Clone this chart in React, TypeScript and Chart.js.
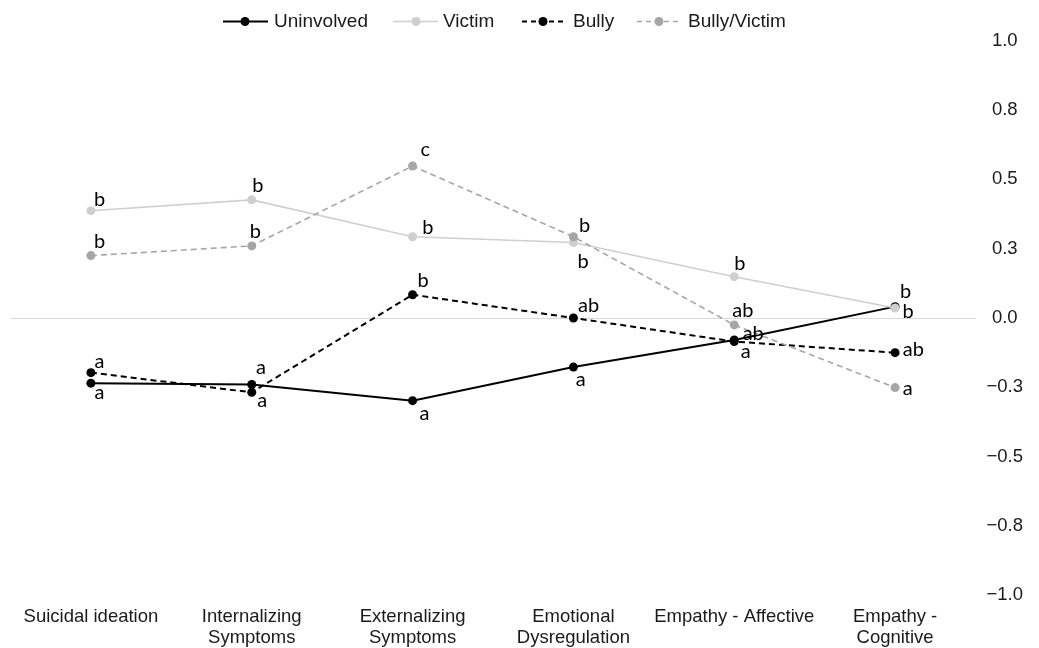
import React, { useEffect, useRef } from "react";
import { Chart, registerables } from "chart.js";

Chart.register(...registerables);

const categories: (string | string[])[] = [
  "Suicidal ideation",
  ["Internalizing", "Symptoms"],
  ["Externalizing", "Symptoms"],
  ["Emotional", "Dysregulation"],
  "Empathy - Affective",
  ["Empathy -", "Cognitive"],
];

const seriesNames = ["Uninvolved", "Victim", "Bully", "Bully/Victim"];

const uninvolved = [-0.235, -0.24, -0.298, -0.177, -0.079, 0.041];
const victim = [0.387, 0.426, 0.293, 0.272, 0.149, 0.036];
const bully = [-0.197, -0.268, 0.084, 0.0, -0.085, -0.125];
const bullyVictim = [0.225, 0.26, 0.548, 0.293, -0.025, -0.251];

const uninvolvedLetters = ["a", "a", "a", "a", "a", "b"];
const victimLetters = ["b", "b", "b", "b", "b", "b"];
const bullyLetters = ["a", "a", "b", "ab", "ab", "ab"];
const bullyVictimLetters = ["b", "b", "c", "b", "ab", "a"];

const yTicks = [-1, -0.75, -0.5, -0.25, 0, 0.25, 0.5, 0.75, 1];

// label offsets (text left, baseline) relative to point, in px
const labelOffsets: [number, number][][] = [
  [[3.6, 16], [4.3, -10.4], [7, 19.3], [2.3, 19.4], [6.4, 18.3], [5, -9]],
  [[3, -5], [0.5, -7.7], [9.7, -2.7], [4, 25.6], [0, -6.7], [7.3, 10.3]],
  [[3.6, -4.4], [5.4, 15], [5, -7.4], [4.6, -6.3], [8.4, -1.7], [7.7, 3.3]],
  [[3, -8], [-2, -7.7], [8, -10], [5.6, -5], [-2, -8.3], [7.7, 7.3]],
];

const colors = ["#000000", "#cfcfcf", "#000000", "#a6a6a6"];
const dashes: number[][] = [[], [], [6, 4], [6, 4]];
const widths = [2, 1.6, 2, 1.6];

const legendPos = [
  { x1: 223, x2: 268, dot: 245, text: 274 },
  { x1: 393, x2: 438, dot: 416, text: 443 },
  { x1: 522, x2: 566, dot: 543, text: 573 },
  { x1: 637, x2: 681, dot: 659, text: 688 },
];

const TICK_FONT = "'Liberation Sans', Arial, sans-serif";

const labelPlugin = {
  id: "pointLetters",
  afterDatasetsDraw(chart: any) {
    const ctx = chart.ctx;
    const letters = [uninvolvedLetters, victimLetters, bullyLetters, bullyVictimLetters];
    ctx.save();
    ctx.font = "20px Lato, 'Open Sans', sans-serif";
    ctx.fillStyle = "#000";
    ctx.textAlign = "left";
    ctx.textBaseline = "alphabetic";
    letters.forEach((arr, di) => {
      const meta = chart.getDatasetMeta(di);
      meta.data.forEach((pt: any, i: number) => {
        const [dx, dy] = labelOffsets[di][i];
        ctx.fillText(arr[i], pt.x + dx, pt.y + dy);
      });
    });
    ctx.restore();
  },
};

const legendPlugin = {
  id: "customLegend",
  afterDraw(chart: any) {
    const ctx = chart.ctx;
    const y = 21.5;
    ctx.save();
    seriesNames.forEach((name, i) => {
      const p = legendPos[i];
      ctx.strokeStyle = colors[i];
      ctx.lineWidth = widths[i];
      ctx.setLineDash(dashes[i].length ? [5, 4] : []);
      ctx.beginPath();
      ctx.moveTo(p.x1, y);
      ctx.lineTo(p.x2, y);
      ctx.stroke();
      ctx.setLineDash([]);
      ctx.fillStyle = colors[i];
      ctx.beginPath();
      ctx.arc(p.dot, y, 4.5, 0, Math.PI * 2);
      ctx.fill();
      ctx.fillStyle = "#1a1a1a";
      ctx.font = `19px ${TICK_FONT}`;
      ctx.textAlign = "left";
      ctx.textBaseline = "middle";
      ctx.fillText(name, p.text, y);
    });
    ctx.restore();
  },
};

export default function App() {
  const ref = useRef<HTMLCanvasElement | null>(null);

  useEffect(() => {
    if (!ref.current) return;
    const seriesData = [uninvolved, victim, bully, bullyVictim];
    const orders = [2, 1, 3, 0];
    const chart = new Chart(ref.current, {
      type: "line",
      data: {
        labels: categories as any,
        datasets: seriesData.map((d, i) => ({
          label: seriesNames[i],
          data: d,
          borderColor: colors[i],
          backgroundColor: colors[i],
          borderWidth: widths[i],
          borderDash: dashes[i],
          pointRadius: 4.5,
          pointBorderWidth: 0,
          pointBackgroundColor: colors[i],
          pointBorderColor: colors[i],
          tension: 0,
          fill: false,
          order: orders[i],
        })),
      },
      options: {
        animation: false,
        responsive: false,
        maintainAspectRatio: false,
        layout: { padding: { top: 40.7, left: 10.5, right: 0, bottom: 0 } },
        plugins: {
          legend: { display: false },
          tooltip: { enabled: false },
          title: { display: false },
        },
        scales: {
          x: {
            type: "category",
            offset: true,
            grid: { display: false, drawTicks: false },
            border: { display: false },
            ticks: {
              color: "#1a1a1a",
              font: { family: TICK_FONT, size: 18.5, lineHeight: 1.17 },
              padding: 10.5,
              maxRotation: 0,
              autoSkip: false,
            },
            afterFit(scale: any) {
              scale.height = 52.7;
            },
          },
          y: {
            type: "linear",
            position: "right",
            min: -1,
            max: 1,
            afterBuildTicks(scale: any) {
              scale.ticks = yTicks.map((v) => ({ value: v }));
            },
            grid: {
              drawTicks: false,
              color: (c: any) => (c.tick && c.tick.value === 0 ? "#d9d9d9" : "rgba(0,0,0,0)"),
              lineWidth: 1,
            },
            border: { display: false },
            ticks: {
              color: "#1a1a1a",
              font: { family: TICK_FONT, size: 18.5 },
              padding: 11,
              crossAlign: "center",
              callback: (v: any) => {
                const s = Number(v).toFixed(1);
                return s.replace("-", "\u2212");
              },
            },
            afterFit(scale: any) {
              scale.width = 63.5;
            },
          },
        },
      },
      plugins: [labelPlugin, legendPlugin],
    });
    return () => chart.destroy();
  }, []);

  return (
    <div style={{ position: "fixed", left: 0, top: 0, width: 1039, height: 648, background: "#fff" }}>
      <canvas ref={ref} width={1039} height={648} style={{ width: 1039, height: 648 }} />
    </div>
  );
}
